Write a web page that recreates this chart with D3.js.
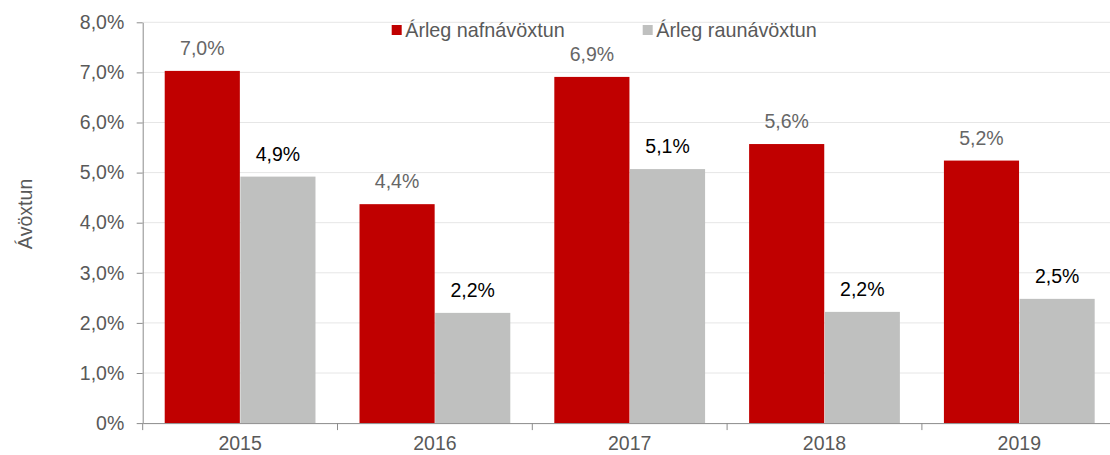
<!DOCTYPE html>
<html>
<head>
<meta charset="utf-8">
<script src="https://cdn.jsdelivr.net/npm/d3@7/dist/d3.min.js"></script>
<style>
  html, body { margin: 0; padding: 0; background: #fff; }
  svg { display: block; font-family: "Liberation Sans", Arial, sans-serif; }
</style>
</head>
<body>
<svg id="chart" width="1110" height="455"></svg>
<script>
const categories = ["2015", "2016", "2017", "2018", "2019"];
const seriesNames = ["Árleg nafnávöxtun", "Árleg raunávöxtun"];
const nominal = [7.03, 4.37, 6.91, 5.57, 5.24];
const real = [4.92, 2.20, 5.07, 2.22, 2.48];
const yTicks = [0, 1, 2, 3, 4, 5, 6, 7, 8];
const yTitle = "Ávöxtun";
const colors = ["#C00000", "#BFC0BF"];
const labelColors = ["#666666", "#000000"];

const svg = d3.select("#chart");
const mLeft = 142.7, mRight = 1116.7, mTop = 22.3, mBottom = 423.1;
const FS = 19.5;
const fmt = v => v.toFixed(1).replace(".", ",") + "%";

const x = d3.scaleBand().domain(categories).range([mLeft, mRight]).padding(0);
const pad = x.step() * 0.113;
const x1 = d3.scaleBand().domain([0, 1]).range([pad, x.bandwidth() - pad]).paddingInner(0.0066);
const y = d3.scaleLinear().domain([0, 8]).range([mBottom, mTop]);

// gridlines
svg.append("g").selectAll("line").data(yTicks.filter(d => d > 0)).join("line")
  .attr("x1", mLeft).attr("x2", mRight)
  .attr("y1", d => y(d)).attr("y2", d => y(d))
  .attr("stroke", "#E6E6E6").attr("stroke-width", 1);

// bars
const data = [nominal, real];
data.forEach((vals, si) => {
  svg.append("g").selectAll("rect").data(vals).join("rect")
    .attr("x", (d, i) => x(categories[i]) + x1(si))
    .attr("width", x1.bandwidth())
    .attr("y", d => y(d))
    .attr("height", d => y(0) - y(d))
    .attr("fill", colors[si]);
  svg.append("g").selectAll("text").data(vals).join("text")
    .attr("x", (d, i) => x(categories[i]) + x1(si) + x1.bandwidth() / 2)
    .attr("y", d => y(d) - 16)
    .attr("text-anchor", "middle")
    .attr("font-size", FS)
    .attr("fill", labelColors[si])
    .text(d => fmt(d));
});

// y axis
const yAxis = svg.append("g").attr("transform", `translate(${mLeft},0)`)
  .call(d3.axisLeft(y).tickValues(yTicks).tickSize(6).tickPadding(12.4).tickFormat(d => d.toFixed(1).replace(".", ",") + "%").tickSizeOuter(0));
yAxis.select(".domain").attr("stroke", "#8C8C8C");
yAxis.selectAll(".tick line").attr("stroke", "#8C8C8C");
yAxis.selectAll(".tick text").attr("fill", "#595959").attr("font-size", FS)
  .attr("font-family", "Liberation Sans, Arial, sans-serif");
yAxis.select(".tick text").text("0%");

// x axis
const xAxis = svg.append("g").attr("transform", `translate(0,${mBottom})`)
  .call(d3.axisBottom(x).tickSize(0).tickPadding(13.5).tickSizeOuter(0));
xAxis.select(".domain").attr("stroke", "#8C8C8C");
xAxis.selectAll(".tick text").attr("fill", "#595959").attr("font-size", FS)
  .attr("font-family", "Liberation Sans, Arial, sans-serif");
// category boundary ticks
svg.append("g").selectAll("line").data(categories).join("line")
  .attr("x1", d => x(d)).attr("x2", d => x(d))
  .attr("y1", mBottom).attr("y2", mBottom + 7)
  .attr("stroke", "#8C8C8C");

// y title
svg.append("text")
  .attr("transform", "translate(32,214) rotate(-90)")
  .attr("text-anchor", "middle")
  .attr("font-size", FS)
  .attr("fill", "#595959")
  .text(yTitle);

// legend
const legendX = [391.7, 642.7];
const lg = svg.append("g");
seriesNames.forEach((name, i) => {
  lg.append("rect").attr("x", legendX[i]).attr("y", 25).attr("width", 10).attr("height", 10).attr("fill", colors[i]);
  lg.append("text").attr("x", legendX[i] + 13.5).attr("y", 37)
    .attr("font-size", 19.8).attr("fill", "#595959").text(name);
});
</script>
</body>
</html>
